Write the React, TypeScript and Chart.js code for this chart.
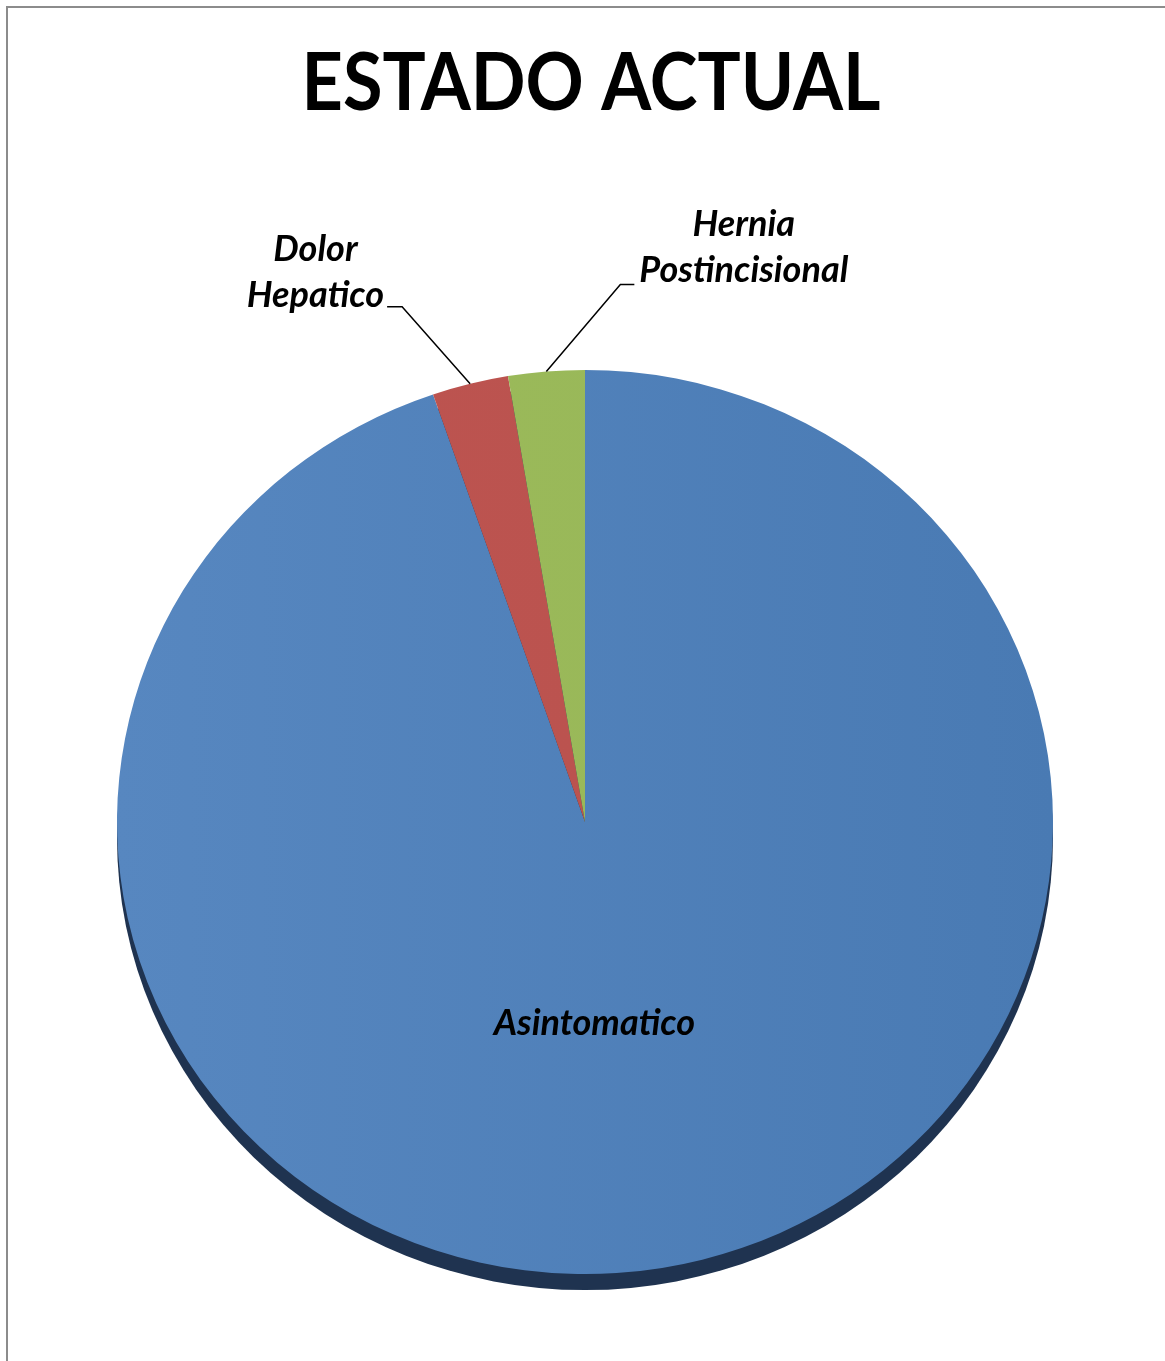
import { useEffect, useRef } from 'react';
import { Chart, registerables } from 'chart.js';

Chart.register(...registerables);

const titleText = 'ESTADO ACTUAL';
const categories = ['Asintomatico', 'Dolor Hepatico', 'Hernia Postincisional'];
const values = [36, 1, 1];
const sliceColors = ['#4F81BD', '#BC5450', '#9BBB59'];

const W = 1165;
const H = 1361;
const SY = 0.966; // perspective squash of the pie
const FONT = 'Lato';

export default function App() {
  const ref = useRef<HTMLCanvasElement | null>(null);

  useEffect(() => {
    document.body.style.margin = '0';
    const canvas = ref.current;
    if (!canvas) return;

    const piePlugin = {
      id: 'pieDecor',
      beforeDraw(chart: any) {
        const ctx = chart.ctx;
        ctx.save();
        ctx.fillStyle = '#ffffff';
        ctx.fillRect(0, 0, W, H);
        ctx.strokeStyle = '#8c8c8c';
        ctx.lineWidth = 2;
        ctx.beginPath();
        ctx.moveTo(7, H);
        ctx.lineTo(7, 7);
        ctx.lineTo(W, 7);
        ctx.stroke();
        // title
        ctx.fillStyle = '#000';
        ctx.font = `bold 81px ${FONT}`;
        ctx.textAlign = 'center';
        ctx.textBaseline = 'alphabetic';
        ctx.translate(591, 110);
        ctx.scale(0.89, 1);
        ctx.fillText(titleText, 0, 0);
        ctx.restore();
      },
      beforeDatasetsDraw(chart: any) {
        const ctx = chart.ctx;
        const arc = chart.getDatasetMeta(0).data[0];
        if (!arc) return;
        const { x, y, outerRadius } = arc.getProps(['x', 'y', 'outerRadius'], true);
        // shadow
        ctx.save();
        ctx.fillStyle = '#1F3350';
        ctx.beginPath();
        ctx.ellipse(x, y + 16, outerRadius, outerRadius * SY, 0, 0, Math.PI * 2);
        ctx.fill();
        ctx.restore();
        ctx.save();
        ctx.translate(x, y);
        ctx.scale(1, SY);
        ctx.translate(-x, -y);
      },
      afterDatasetsDraw(chart: any) {
        const ctx = chart.ctx;
        ctx.restore();
        const meta = chart.getDatasetMeta(0);
        ctx.save();
        ctx.fillStyle = '#000';
        ctx.strokeStyle = '#000';
        ctx.lineWidth = 1.5;
        ctx.font = `italic bold 36px ${FONT}`;
        meta.data.forEach((el: any, i: number) => {
          const { x, y, startAngle, endAngle, outerRadius } = el.getProps(
            ['x', 'y', 'startAngle', 'endAngle', 'outerRadius'],
            true
          );
          const mid = (startAngle + endAngle) / 2;
          const label = chart.data.labels[i] as string;
          if (i === 0) {
            ctx.textAlign = 'center';
            ctx.textBaseline = 'alphabetic';
            ctx.fillText(label, x + outerRadius * 0.02, y + outerRadius * 0.455);
            return;
          }
          const ax = x + Math.cos(mid) * outerRadius;
          const ay = y + Math.sin(mid) * outerRadius * SY;
          const lines = label.split(' ');
          const left = i === 1;
          const ex = left ? ax - 68 : ax + 74;
          const ey = left ? ay - 77 : ay - 87;
          const hx = left ? ex - 15 : ex + 14;
          ctx.beginPath();
          ctx.moveTo(ax, ay);
          ctx.lineTo(ex, ey);
          ctx.lineTo(hx, ey);
          ctx.stroke();
          const widths = lines.map((l) => ctx.measureText(l).width);
          const bw = Math.max(...widths);
          const cxText = left ? hx - 3 - bw / 2 : hx + 5 + bw / 2;
          const base = left ? ey : ey - 2;
          ctx.textAlign = 'center';
          ctx.textBaseline = 'alphabetic';
          lines.forEach((l, k) => {
            ctx.fillText(l, cxText, base - (lines.length - 1 - k) * 46);
          });
        });
        ctx.restore();
      },
    };

    const chart = new Chart(canvas, {
      type: 'pie',
      data: {
        labels: categories,
        datasets: [
          {
            data: values,
            backgroundColor: (c: any) => {
              const i = c.dataIndex;
              const area = c.chart.chartArea;
              if (!area) return sliceColors[i];
              const g = c.chart.ctx.createLinearGradient(area.left, 0, area.right, 0);
              if (i === 0) {
                g.addColorStop(0, '#5787C0');
                g.addColorStop(1, '#497AB3');
              } else if (i === 1) {
                g.addColorStop(0, '#BE5450');
                g.addColorStop(1, '#B8524E');
              } else {
                g.addColorStop(0, '#9CBB5B');
                g.addColorStop(1, '#97B657');
              }
              return g;
            },
            borderWidth: 0,
          },
        ],
      },
      options: {
        responsive: false,
        animation: false,
        layout: { padding: { left: 117, right: 112, top: 354, bottom: 71 } },
        plugins: {
          legend: { display: false },
          tooltip: { enabled: false },
          title: { display: false },
        },
      },
      plugins: [piePlugin],
    });

    return () => chart.destroy();
  }, []);

  return <canvas ref={ref} width={W} height={H} style={{ display: 'block' }} />;
}
